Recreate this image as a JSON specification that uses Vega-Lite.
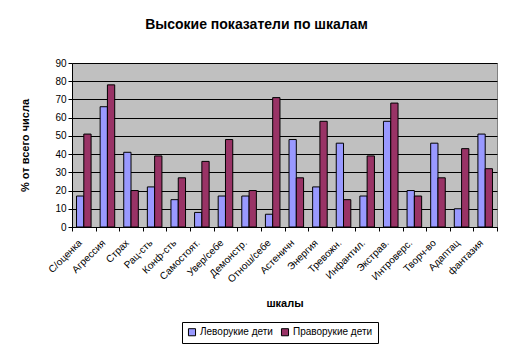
{
  "$schema": "https://vega.github.io/schema/vega-lite/v6.json",
  "width": 425,
  "height": 164,
  "autosize": "none",
  "padding": {"left": 72, "top": 63, "right": 15, "bottom": 130},
  "background": "white",
  "title": {"text": "Высокие показатели по шкалам", "font": "Liberation Sans", "fontSize": 14, "fontWeight": "bold", "color": "black", "anchor": "middle", "dx": -28, "offset": 26},
  "config": {
    "view": {"fill": "#C0C0C0", "stroke": "#808080", "strokeWidth": 1},
    "font": "Liberation Sans"
  },
  "data": {"values": [
    {"scale": "С/оценка", "group": "Леворукие дети", "v": 17},
    {"scale": "С/оценка", "group": "Праворукие дети", "v": 51},
    {"scale": "Агрессия", "group": "Леворукие дети", "v": 66},
    {"scale": "Агрессия", "group": "Праворукие дети", "v": 78},
    {"scale": "Страх", "group": "Леворукие дети", "v": 41},
    {"scale": "Страх", "group": "Праворукие дети", "v": 20},
    {"scale": "Рац-сть", "group": "Леворукие дети", "v": 22},
    {"scale": "Рац-сть", "group": "Праворукие дети", "v": 39},
    {"scale": "Конф-сть", "group": "Леворукие дети", "v": 15},
    {"scale": "Конф-сть", "group": "Праворукие дети", "v": 27},
    {"scale": "Самостоят.", "group": "Леворукие дети", "v": 8},
    {"scale": "Самостоят.", "group": "Праворукие дети", "v": 36},
    {"scale": "Увер/себе", "group": "Леворукие дети", "v": 17},
    {"scale": "Увер/себе", "group": "Праворукие дети", "v": 48},
    {"scale": "Демонстр.", "group": "Леворукие дети", "v": 17},
    {"scale": "Демонстр.", "group": "Праворукие дети", "v": 20},
    {"scale": "Отнош/себе", "group": "Леворукие дети", "v": 7},
    {"scale": "Отнош/себе", "group": "Праворукие дети", "v": 71},
    {"scale": "Астеничн", "group": "Леворукие дети", "v": 48},
    {"scale": "Астеничн", "group": "Праворукие дети", "v": 27},
    {"scale": "Энергия", "group": "Леворукие дети", "v": 22},
    {"scale": "Энергия", "group": "Праворукие дети", "v": 58},
    {"scale": "Тревожн.", "group": "Леворукие дети", "v": 46},
    {"scale": "Тревожн.", "group": "Праворукие дети", "v": 15},
    {"scale": "Инфантил.", "group": "Леворукие дети", "v": 17},
    {"scale": "Инфантил.", "group": "Праворукие дети", "v": 39},
    {"scale": "Экстрав.", "group": "Леворукие дети", "v": 58},
    {"scale": "Экстрав.", "group": "Праворукие дети", "v": 68},
    {"scale": "Интроверс.", "group": "Леворукие дети", "v": 20},
    {"scale": "Интроверс.", "group": "Праворукие дети", "v": 17},
    {"scale": "Творч-во", "group": "Леворукие дети", "v": 46},
    {"scale": "Творч-во", "group": "Праворукие дети", "v": 27},
    {"scale": "Адаптац", "group": "Леворукие дети", "v": 10},
    {"scale": "Адаптац", "group": "Праворукие дети", "v": 43},
    {"scale": "фантазия", "group": "Леворукие дети", "v": 51},
    {"scale": "фантазия", "group": "Праворукие дети", "v": 32}
  ]},
  "mark": {"type": "bar", "stroke": "black", "strokeWidth": 1},
  "encoding": {
    "x": {
      "field": "scale", "type": "nominal", "sort": null,
      "scale": {"paddingInner": 0, "paddingOuter": 0},
      "axis": {
        "title": "шкалы", "titleFontSize": 11, "titleFontWeight": "bold", "titleColor": "black", "titlePadding": 13,
        "labelAngle": -45, "labelAlign": "right", "labelBaseline": "middle", "labelFontSize": 10, "labelColor": "black",
        "labelPadding": 10, "labelOffset": -4, "tickBand": "extent", "tickSize": 4, "tickColor": "black", "domainColor": "black", "grid": false
      }
    },
    "xOffset": {"field": "group", "type": "nominal", "scale": {"paddingInner": 0, "paddingOuter": 0.62}},
    "y": {
      "field": "v", "type": "quantitative",
      "scale": {"domain": [0, 90], "nice": false},
      "axis": {
        "title": "% от всего числа", "titleFontSize": 11, "titleFontWeight": "bold", "titleColor": "black", "titlePadding": 24,
        "values": [0, 10, 20, 30, 40, 50, 60, 70, 80, 90], "labelFontSize": 10, "labelColor": "black",
        "tickSize": 4, "tickColor": "black", "domainColor": "black",
        "grid": true, "gridColor": "black", "gridOpacity": 1, "gridWidth": 1
      }
    },
    "color": {
      "field": "group", "type": "nominal",
      "scale": {"domain": ["Леворукие дети", "Праворукие дети"], "range": ["#9999FF", "#993366"]},
      "legend": {
        "title": null, "orient": "none", "direction": "horizontal", "legendX": 110, "legendY": 259,
        "strokeColor": "black", "padding": 5, "symbolType": "square", "symbolSize": 50,
        "symbolStrokeColor": "black", "symbolStrokeWidth": 1, "labelFontSize": 10, "labelColor": "black",
        "columnPadding": 6, "labelOffset": 3, "fillColor": "white"
      }
    }
  }
}
